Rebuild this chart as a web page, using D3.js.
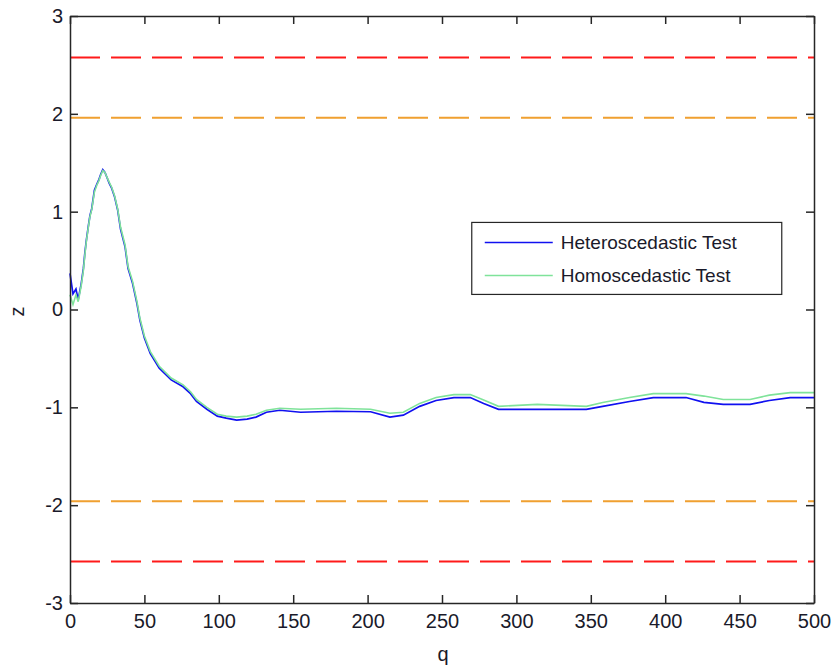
<!DOCTYPE html>
<html>
<head>
<meta charset="utf-8">
<script src="https://cdn.jsdelivr.net/npm/d3@7"></script>
<style>
  body { margin: 0; background: #fff; }
  text { font-family: "Liberation Sans", Arial, sans-serif; fill: #1a1a2a; }
</style>
</head>
<body>
<div id="chart"></div>
<script>
// q positions where the curves were read
var qValues = [0, 2, 4, 5.5, 7.5, 9, 10, 11, 12.3, 13.4, 14.6, 16.4, 18, 19.5, 20.6,
    22, 23.5, 24.6, 26.4, 28, 30, 32, 34, 37, 39, 42, 45, 47, 50, 54, 60, 68, 76, 81, 85,
    92, 99, 105, 112, 119, 125, 132, 141, 155, 179, 202, 215, 224, 235, 246, 258, 269,
    278, 288, 314, 347, 358, 376, 392, 414, 426, 439, 457, 470, 484, 500];

var heteroZ = [0.37, 0.16, 0.21, 0.10, 0.26, 0.42, 0.58, 0.71, 0.85, 0.96, 1.03, 1.22, 1.28, 1.33, 1.38,
    1.43, 1.40, 1.36, 1.29, 1.24, 1.15, 1.02, 0.82, 0.64, 0.42, 0.27, 0.06, -0.11, -0.29, -0.45,
    -0.60, -0.72, -0.79, -0.86, -0.94, -1.02, -1.09, -1.11, -1.13, -1.12, -1.10, -1.05, -1.03, -1.05,
    -1.04, -1.045, -1.10, -1.08, -0.99, -0.93, -0.90, -0.90, -0.96, -1.02, -1.02, -1.02, -0.99,
    -0.94, -0.90, -0.90, -0.95, -0.97, -0.97, -0.93, -0.90, -0.90];

var homoZ = [0.15, 0.05, 0.15, 0.08, 0.24, 0.40, 0.56, 0.70, 0.84, 0.95, 1.02, 1.20, 1.27, 1.32, 1.37,
    1.42, 1.40, 1.36, 1.30, 1.25, 1.16, 1.03, 0.84, 0.66, 0.44, 0.29, 0.08, -0.09, -0.27, -0.43,
    -0.58, -0.70, -0.77, -0.84, -0.92, -1.00, -1.07, -1.09, -1.10, -1.09, -1.07, -1.03, -1.01, -1.02,
    -1.01, -1.02, -1.06, -1.05, -0.96, -0.90, -0.87, -0.87, -0.925, -0.99, -0.97, -0.99, -0.95,
    -0.90, -0.86, -0.86, -0.885, -0.92, -0.92, -0.875, -0.85, -0.85];

// critical values (1% and 5% two sided)
var critLevels = [2.576, 1.96, -1.96, -2.576];
var critColors = ["#ff1a1a", "#f0a030", "#f0a030", "#ff1a1a"];

var xTicks = [0, 50, 100, 150, 200, 250, 300, 350, 400, 450, 500];
var yTicks = [-3, -2, -1, 0, 1, 2, 3];
var seriesNames = ["Heteroscedastic Test", "Homoscedastic Test"];
var seriesColors = ["#1010f0", "#7fe39a"];

var margin = {top: 16, right: 22, bottom: 66, left: 70},
    width = 836 - margin.left - margin.right,
    height = 669 - margin.top - margin.bottom;

var svg = d3.select("#chart").append("svg")
    .attr("width", 836)
    .attr("height", 669);

var g = svg.append("g")
    .attr("transform", "translate(" + margin.left + "," + margin.top + ")");

var xScale = d3.scaleLinear().domain([0, 500]).range([0, width]);
var yScale = d3.scaleLinear().domain([-3, 3]).range([height, 0]);

// dashed critical lines
g.selectAll(".crit")
    .data(critLevels)
    .enter().append("line")
    .attr("class", "crit")
    .attr("x1", 0)
    .attr("x2", width)
    .attr("y1", function (d) { return yScale(d); })
    .attr("y2", function (d) { return yScale(d); })
    .style("stroke", function (d, i) { return critColors[i]; })
    .style("stroke-width", 1.8)
    .style("stroke-dasharray", "30,11");

var line = d3.line()
    .x(function (d) { return xScale(d[0]); })
    .y(function (d) { return yScale(d[1]); });

var heteroData = qValues.map(function (q, i) { return [q, heteroZ[i]]; });
var homoData = qValues.map(function (q, i) { return [q, homoZ[i]]; });

g.append("path")
    .datum(heteroData)
    .attr("d", line)
    .style("fill", "none")
    .style("stroke", seriesColors[0])
    .style("stroke-width", 1.7);

g.append("path")
    .datum(homoData)
    .attr("d", line)
    .style("fill", "none")
    .style("stroke", seriesColors[1])
    .style("stroke-width", 1.6);

// axes, matlab style: ticks inside, box around
var tickLen = 8;
var fmt = function (d) { return String(d); };  // plain hyphen minus like the original
var xAxis = d3.axisBottom(xScale).tickValues(xTicks).tickFormat(fmt)
    .tickSizeInner(-tickLen).tickSizeOuter(0).tickPadding(11);
var yAxis = d3.axisLeft(yScale).tickValues(yTicks).tickFormat(fmt)
    .tickSizeInner(-tickLen).tickSizeOuter(0).tickPadding(7);
var xAxisTop = d3.axisTop(xScale).tickValues(xTicks).tickSizeInner(-tickLen).tickSizeOuter(0).tickFormat("");
var yAxisRight = d3.axisRight(yScale).tickValues(yTicks).tickSizeInner(-tickLen).tickSizeOuter(0).tickFormat("");

g.append("g").attr("class", "axis")
    .attr("transform", "translate(0," + height + ")")
    .call(xAxis);
g.append("g").attr("class", "axis").call(yAxis);
g.append("g").attr("class", "axis").call(xAxisTop);
g.append("g").attr("class", "axis")
    .attr("transform", "translate(" + width + ",0)")
    .call(yAxisRight);

g.selectAll(".axis path, .axis line")
    .style("stroke", "#262626")
    .style("stroke-width", 1.5);
g.selectAll(".axis text")
    .style("font-size", "20px")
    .style("font-family", "Liberation Sans, Arial, sans-serif")
    .style("fill", "#1a1a2a");

// axis labels
g.append("text")
    .attr("x", width / 2 + 1)
    .attr("y", height + 58)
    .attr("text-anchor", "middle")
    .style("font-size", "20px")
    .text("q");

g.append("text")
    .attr("transform", "translate(" + (-46) + "," + (height / 2 + 2) + ") rotate(-90)")
    .attr("text-anchor", "middle")
    .style("font-size", "20px")
    .text("z");

// legend
var legend = g.append("g")
    .attr("transform", "translate(" + (xScale(270) ) + "," + (yScale(0.89)) + ")");

legend.append("rect")
    .attr("width", 310)
    .attr("height", 72)
    .style("fill", "#fff")
    .style("stroke", "#262626")
    .style("stroke-width", 1.2);

seriesNames.forEach(function (name, i) {
    var ly = 20 + i * 33;
    legend.append("line")
        .attr("x1", 13).attr("x2", 81)
        .attr("y1", ly).attr("y2", ly)
        .style("stroke", seriesColors[i])
        .style("stroke-width", 1.6);
    legend.append("text")
        .attr("x", 89)
        .attr("y", ly + 7)
        .style("font-size", "19px")
        .text(name);
});
</script>
</body>
</html>
